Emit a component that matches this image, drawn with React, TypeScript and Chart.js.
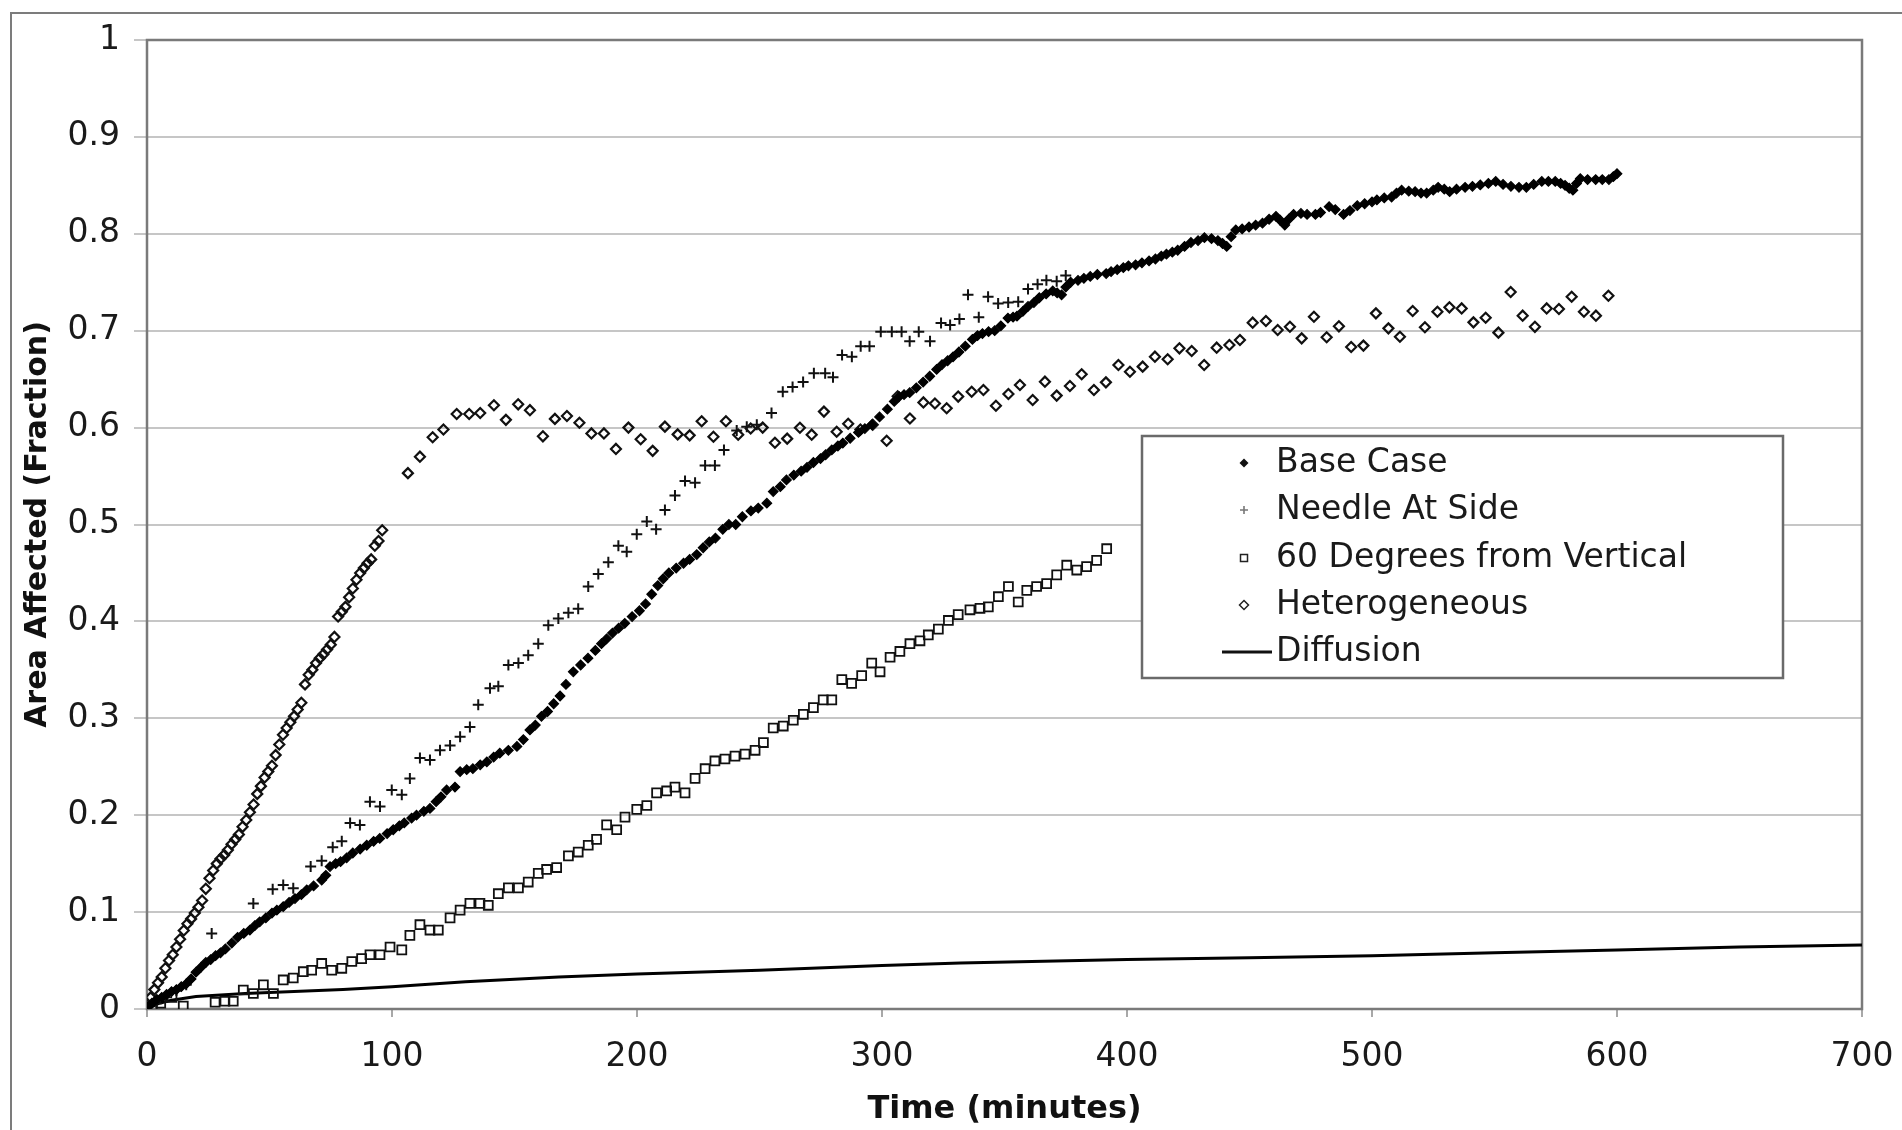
import React, { useEffect, useRef } from 'react';
import { Chart, registerables } from 'chart.js';

Chart.register(...registerables);

const xTickLabels = ['0', '100', '200', '300', '400', '500', '600', '700'];
const yTickLabels = ['0', '0.1', '0.2', '0.3', '0.4', '0.5', '0.6', '0.7', '0.8', '0.9', '1'];
const seriesNames = ['Base Case', 'Needle At Side', '60 Degrees from Vertical', 'Heterogeneous', 'Diffusion'];
const xAxisTitle = 'Time (minutes)';
const yAxisTitle = 'Area Affected (Fraction)';

// [time (minutes), area affected (fraction)]
const baseCase: [number, number][] = [
  [0, 0.002], [2, 0.006], [4, 0.01], [6, 0.012], [8, 0.015], [10, 0.018], [12, 0.02], [14, 0.023], [16, 0.026], [18, 0.031],
  [20, 0.038], [22, 0.043], [24, 0.048], [26, 0.051], [28, 0.055], [30, 0.058], [32, 0.062], [34.6, 0.068], [37, 0.074], [39.5, 0.078],
  [42, 0.0815], [44, 0.086], [46, 0.09], [48.5, 0.094], [51, 0.099], [53, 0.102], [55.6, 0.1056], [58, 0.11], [60.4, 0.114], [63, 0.118],
  [65.2, 0.123], [68, 0.127], [71.3, 0.133], [73, 0.138], [74.7, 0.147], [77, 0.15], [79, 0.152], [81.5, 0.156], [84, 0.161], [87, 0.165],
  [89.7, 0.169], [92.5, 0.173], [95, 0.176], [98, 0.181], [100.5, 0.185], [103, 0.189], [105, 0.192], [108, 0.197], [110, 0.2], [113, 0.204],
  [115.5, 0.207], [118, 0.214], [120, 0.219], [122.3, 0.226], [125.7, 0.229], [127.8, 0.245], [130.5, 0.247], [133, 0.248], [136, 0.252], [138.7, 0.255],
  [141.5, 0.26], [144, 0.264], [147.5, 0.267], [151, 0.271], [153.6, 0.278], [156.3, 0.288], [158.5, 0.293], [161, 0.302], [163.5, 0.307], [166, 0.315],
  [168.6, 0.323], [171, 0.335], [174, 0.348], [177, 0.355], [180, 0.362], [183, 0.37], [185.5, 0.377], [187.6, 0.382], [190, 0.388], [192.5, 0.393],
  [195, 0.398], [198, 0.405], [201, 0.411], [203.5, 0.418], [206, 0.428], [208.5, 0.437], [210.7, 0.444], [213, 0.45], [216, 0.455], [219, 0.46],
  [221.5, 0.464], [224.4, 0.469], [227, 0.476], [229.5, 0.482], [232, 0.486], [235, 0.495], [237.5, 0.5], [240.3, 0.5], [243, 0.508], [246.5, 0.514],
  [249.5, 0.517], [253, 0.522], [255.6, 0.534], [258.5, 0.539], [261, 0.546], [264, 0.551], [267, 0.555], [269.4, 0.559], [272, 0.564], [274.9, 0.568],
  [277, 0.572], [279.5, 0.577], [282, 0.581], [284, 0.584], [287, 0.589], [290.4, 0.595], [293, 0.599], [295.9, 0.603], [299, 0.611], [302.2, 0.619],
  [305, 0.627], [307, 0.632], [309, 0.634], [311.3, 0.636], [314, 0.641], [316.8, 0.647], [319.5, 0.653], [322.3, 0.66], [324.5, 0.665], [326.8, 0.669],
  [329, 0.673], [331.4, 0.678], [334, 0.684], [336.9, 0.691], [339, 0.695], [341, 0.697], [343.5, 0.699], [346, 0.7], [348.5, 0.705], [351.4, 0.713],
  [353.5, 0.714], [355.1, 0.715], [357.5, 0.72], [359.6, 0.725], [362, 0.729], [364.2, 0.734], [367, 0.738], [369.7, 0.741], [371.5, 0.739], [373.3, 0.737],
  [375, 0.745], [377, 0.75], [380, 0.752], [382.4, 0.754], [385, 0.756], [387.9, 0.758], [391.5, 0.759], [393.5, 0.761], [396, 0.763], [398.5, 0.765],
  [400.6, 0.767], [403.5, 0.768], [406.1, 0.77], [409, 0.772], [411.6, 0.774], [414, 0.777], [416.1, 0.779], [418.5, 0.781], [420.7, 0.783], [423.5, 0.787],
  [426.1, 0.791], [429, 0.793], [431.6, 0.796], [434.5, 0.795], [437.1, 0.793], [439, 0.79], [440.7, 0.787], [442.5, 0.797], [444.4, 0.804], [447, 0.805],
  [449.8, 0.807], [452.5, 0.809], [455.3, 0.811], [458, 0.815], [460.8, 0.818], [462.5, 0.814], [464.4, 0.809], [466, 0.815], [468, 0.82], [471, 0.821],
  [473.5, 0.82], [476.9, 0.82], [479, 0.822], [482.5, 0.828], [485, 0.825], [488.4, 0.82], [491, 0.824], [494, 0.829], [497, 0.831], [500, 0.833],
  [502, 0.835], [505, 0.837], [508, 0.838], [510, 0.842], [512.1, 0.845], [515, 0.844], [517.6, 0.8435], [520, 0.842], [522.3, 0.842], [525, 0.845],
  [527, 0.848], [529.5, 0.846], [531.7, 0.8435], [534.5, 0.846], [538, 0.848], [541, 0.849], [544.2, 0.8504], [547.5, 0.852], [550.5, 0.854], [553.5, 0.851],
  [556.7, 0.849], [560, 0.848], [563, 0.848], [566, 0.851], [569.3, 0.854], [572, 0.854], [574.8, 0.854], [577, 0.852], [578.8, 0.85], [580.5, 0.847],
  [582, 0.845], [583.5, 0.852], [585, 0.857], [588, 0.856], [591.3, 0.856], [594, 0.856], [596.7, 0.856], [598.5, 0.859], [600, 0.862],
];

const needleAtSide: [number, number][] = [
  [0, 0.002], [4, 0.006], [8, 0.012], [12, 0.019], [16, 0.025], [26.4, 0.078], [43.4, 0.109], [51.3, 0.1235], [55.6, 0.128], [59.7, 0.1245],
  [66.8, 0.147], [71.3, 0.153], [75.8, 0.167], [79.5, 0.173], [82.9, 0.192], [86.9, 0.19], [91, 0.214], [95.1, 0.209], [99.9, 0.226], [104, 0.221],
  [107.3, 0.238], [111.4, 0.259], [115.5, 0.257], [119.6, 0.267], [123.7, 0.272], [127.8, 0.281], [131.8, 0.291], [135.2, 0.314], [140, 0.331], [143.4, 0.333],
  [147.5, 0.355], [151.6, 0.357], [155.6, 0.365], [159.7, 0.377], [163.8, 0.396], [167.9, 0.403], [172, 0.409], [176, 0.413], [180.1, 0.436], [184.2, 0.449],
  [188.3, 0.461], [192.4, 0.478], [195.8, 0.472], [199.9, 0.49], [204, 0.503], [207.8, 0.495], [211.4, 0.515], [215.5, 0.53], [219.6, 0.545], [223.7, 0.543],
  [227.8, 0.561], [231.8, 0.561], [235.5, 0.577], [240.7, 0.597], [244.8, 0.601], [248.9, 0.603], [254.9, 0.615], [259.5, 0.637], [263.5, 0.642], [267.8, 0.647],
  [272.2, 0.656], [276.8, 0.656], [280, 0.652], [283.7, 0.675], [287.7, 0.673], [291.3, 0.684], [294.9, 0.684], [299.5, 0.699], [304, 0.699], [308, 0.699],
  [311.3, 0.689], [315, 0.699], [319.6, 0.689], [324.1, 0.708], [327.8, 0.706], [331.6, 0.712], [335.1, 0.737], [339.5, 0.714], [343.3, 0.735], [347.4, 0.728],
  [351.5, 0.729], [355.6, 0.73], [359.6, 0.743], [363.5, 0.748], [367.1, 0.752], [371.3, 0.751], [375, 0.757],
];

const sixtyDegrees: [number, number][] = [
  [0, 0.002], [5.6, 0.006], [10.2, 0.012], [14.8, 0.003], [27.8, 0.007], [31.8, 0.008], [35.2, 0.008], [39.3, 0.0196], [43.4, 0.016], [47.5, 0.025],
  [51.6, 0.016], [55.6, 0.03], [59.7, 0.032], [63.8, 0.0385], [67.2, 0.04], [71.3, 0.047], [75.4, 0.04], [79.5, 0.042], [83.6, 0.049], [87.6, 0.052],
  [91, 0.056], [95.1, 0.056], [99.2, 0.064], [104, 0.061], [107.3, 0.076], [111.4, 0.087], [115.5, 0.0815], [118.9, 0.0815], [123.7, 0.094], [127.8, 0.102],
  [131.8, 0.109], [135.9, 0.109], [139.3, 0.107], [143.4, 0.119], [147.5, 0.125], [151.6, 0.125], [155.6, 0.131], [159.7, 0.14], [163.1, 0.144], [167.2, 0.146],
  [172, 0.158], [176, 0.162], [180.1, 0.169], [183.5, 0.175], [187.6, 0.19], [191.7, 0.185], [195.1, 0.198], [199.9, 0.206], [204, 0.21], [208, 0.223],
  [212.1, 0.225], [215.5, 0.229], [219.6, 0.223], [223.7, 0.238], [227.8, 0.248], [231.8, 0.256], [235.9, 0.258], [240, 0.261], [244.1, 0.263], [248.2, 0.267],
  [251.6, 0.275], [255.6, 0.29], [259.7, 0.292], [263.8, 0.298], [267.9, 0.304], [272, 0.311], [276, 0.319], [279.5, 0.319], [283.6, 0.34], [287.6, 0.336],
  [291.7, 0.344], [295.8, 0.357], [299.2, 0.348], [303.3, 0.363], [307.3, 0.369], [311.4, 0.377], [315.5, 0.38], [318.9, 0.386], [323, 0.392], [327.1, 0.401],
  [331.1, 0.407], [335.9, 0.412], [340, 0.4135], [343.4, 0.415], [347.5, 0.4255], [351.6, 0.436], [355.6, 0.42], [359.1, 0.432], [363.1, 0.436], [367.2, 0.439],
  [371.3, 0.448], [375.4, 0.458], [379.5, 0.453], [383.5, 0.4565], [387.6, 0.463], [391.7, 0.475],
];

const heterogeneous: [number, number][] = [
  [0, 0.005], [1.5, 0.012], [3, 0.02], [4.5, 0.027], [6, 0.033], [7.5, 0.042], [9, 0.05], [10.5, 0.056], [12, 0.064], [13.5, 0.072],
  [15, 0.081], [16.5, 0.088], [18, 0.093], [19.5, 0.099], [21, 0.105], [22.5, 0.112], [24, 0.124], [25.5, 0.135], [27, 0.143], [28.5, 0.15],
  [30, 0.155], [31.5, 0.159], [33, 0.164], [34.5, 0.17], [36, 0.175], [37.5, 0.18], [39, 0.188], [40.5, 0.195], [42, 0.203], [43.5, 0.211],
  [45, 0.222], [46.5, 0.23], [48, 0.239], [49.5, 0.245], [51, 0.251], [52.5, 0.262], [54, 0.273], [55.5, 0.283], [57, 0.29], [58.5, 0.296],
  [60, 0.302], [61.5, 0.309], [63, 0.316], [64.5, 0.335], [66, 0.345], [67.5, 0.35], [69, 0.357], [70.5, 0.362], [72, 0.366], [73.5, 0.371],
  [75, 0.376], [76.5, 0.384], [78, 0.405], [79.5, 0.41], [81, 0.415], [82.5, 0.425], [84, 0.434], [85.5, 0.443], [87, 0.45], [88.5, 0.455],
  [90, 0.46], [91.5, 0.464], [93, 0.478], [94.5, 0.483], [96, 0.494],
  [106.5, 0.553], [111.4, 0.57], [116.6, 0.59], [121, 0.598], [126.4, 0.614], [131.5, 0.614], [136, 0.615], [141.6, 0.623], [146.5, 0.608], [151.5, 0.624],
  [156.3, 0.618], [161.6, 0.591], [166.5, 0.609], [171.4, 0.612], [176.5, 0.605], [181.4, 0.594], [186.5, 0.594], [191.4, 0.578], [196.5, 0.6], [201.5, 0.588],
  [206.4, 0.576], [211.4, 0.601], [216.6, 0.593], [221.5, 0.592], [226.4, 0.6065], [231.2, 0.5906], [236.3, 0.6065], [241.3, 0.5927], [246.4, 0.599], [251.3, 0.6],
  [256.3, 0.5843], [261.3, 0.5886], [266.5, 0.5998], [271.3, 0.5927], [276.3, 0.6165], [281.5, 0.5957], [286.2, 0.604], [291.2, 0.598], [296.2, 0.603], [301.9, 0.5865],
  [306.4, 0.6324], [311.4, 0.6094], [316.9, 0.626], [321.6, 0.6249], [326.4, 0.62], [331.1, 0.632], [336.6, 0.637], [341.4, 0.6388], [346.5, 0.6226], [351.6, 0.6347],
  [356.3, 0.644], [361.5, 0.6285], [366.5, 0.6474], [371.3, 0.633], [376.7, 0.643], [381.5, 0.655], [386.5, 0.6388], [391.4, 0.6467], [396.5, 0.6646], [401.2, 0.6577],
  [406.4, 0.6629], [411.4, 0.6732], [416.6, 0.6705], [421.4, 0.6818], [426.4, 0.679], [431.5, 0.6646], [436.6, 0.6825], [441.8, 0.6853], [446.1, 0.6904], [451.3, 0.7083],
  [456.7, 0.71], [461.5, 0.7007], [466.5, 0.7041], [471.3, 0.6921], [476.3, 0.7144], [481.5, 0.6932], [486.5, 0.7045], [491.5, 0.6832], [496.5, 0.6846], [501.6, 0.7179],
  [506.7, 0.7024], [511.4, 0.6938], [516.6, 0.7203], [521.6, 0.7035], [526.7, 0.7196], [531.6, 0.7241], [536.6, 0.723], [541.4, 0.7086], [546.4, 0.7134], [551.6, 0.698],
  [556.6, 0.74], [561.5, 0.7155], [566.5, 0.704], [571.3, 0.723], [576.3, 0.7224], [581.5, 0.735], [586.5, 0.7196], [591.4, 0.7155], [596.5, 0.736],
];

const diffusion: [number, number][] = [
  [0, 0], [5, 0.006], [10, 0.009], [20, 0.013], [40, 0.016], [60, 0.018], [80, 0.02], [100, 0.023], [130, 0.028], [168, 0.033],
  [200, 0.036], [250, 0.04], [300, 0.045], [332, 0.0475], [400, 0.051], [450, 0.053], [500, 0.055], [550, 0.058], [600, 0.061], [650, 0.064],
  [700, 0.066],
];

const FONT = "'DejaVu Sans', Verdana, sans-serif";

const toPoints = (a: [number, number][]) => a.map(([x, y]) => ({ x, y }));

export default function App() {
  const ref = useRef<HTMLCanvasElement>(null);

  useEffect(() => {
    document.body.style.margin = '0';
    const canvas = ref.current;
    if (!canvas) return;

    const decor = {
      id: 'decor',
      beforeDraw(chart: any) {
        const ctx = chart.ctx;
        ctx.save();
        ctx.fillStyle = '#ffffff';
        ctx.fillRect(0, 0, chart.width, chart.height);
        ctx.strokeStyle = '#7c7c7c';
        ctx.lineWidth = 2;
        ctx.beginPath();
        ctx.moveTo(11, chart.height);
        ctx.lineTo(11, 13);
        ctx.lineTo(chart.width, 13);
        ctx.stroke();
        ctx.restore();
      },
      beforeDatasetsDraw(chart: any) {
        const { ctx, chartArea } = chart;
        ctx.save();
        ctx.strokeStyle = '#7a7a7a';
        ctx.lineWidth = 2.5;
        ctx.strokeRect(chartArea.left, chartArea.top, chartArea.right - chartArea.left, chartArea.bottom - chartArea.top);
        ctx.restore();
      },
      afterDraw(chart: any) {
        const ctx = chart.ctx;
        const lx = 1142, ly = 436, lw = 641, lh = 242;
        const mx = 1244, tx = 1276;
        const rows = [463, 510, 558, 605, 652];
        ctx.save();
        ctx.fillStyle = '#ffffff';
        ctx.fillRect(lx, ly, lw, lh);
        ctx.strokeStyle = '#6a6a6a';
        ctx.lineWidth = 2.5;
        ctx.strokeRect(lx, ly, lw, lh);
        // markers
        ctx.fillStyle = '#111';
        ctx.beginPath();
        ctx.moveTo(mx, rows[0] - 4.5); ctx.lineTo(mx + 4.5, rows[0]); ctx.lineTo(mx, rows[0] + 4.5); ctx.lineTo(mx - 4.5, rows[0]);
        ctx.closePath(); ctx.fill();
        ctx.strokeStyle = '#777';
        ctx.lineWidth = 1.6;
        ctx.beginPath();
        ctx.moveTo(mx - 4, rows[1]); ctx.lineTo(mx + 4, rows[1]);
        ctx.moveTo(mx, rows[1] - 4); ctx.lineTo(mx, rows[1] + 4);
        ctx.stroke();
        ctx.strokeStyle = '#222';
        ctx.lineWidth = 1.5;
        ctx.strokeRect(mx - 3.5, rows[2] - 3.5, 7, 7);
        ctx.beginPath();
        ctx.moveTo(mx, rows[3] - 4.5); ctx.lineTo(mx + 4.5, rows[3]); ctx.lineTo(mx, rows[3] + 4.5); ctx.lineTo(mx - 4.5, rows[3]);
        ctx.closePath(); ctx.stroke();
        ctx.strokeStyle = '#111';
        ctx.lineWidth = 3;
        ctx.beginPath();
        ctx.moveTo(1222, rows[4]); ctx.lineTo(1272, rows[4]);
        ctx.stroke();
        // text
        ctx.font = `33px ${FONT}`;
        ctx.fillStyle = '#1a1a1a';
        ctx.textAlign = 'left';
        ctx.textBaseline = 'middle';
        seriesNames.forEach((n, i) => ctx.fillText(n, tx, rows[i]));
        ctx.restore();
      },
    };

    const chart = new Chart(canvas, {
      type: 'scatter',
      data: {
        datasets: [
          {
            label: seriesNames[0],
            data: toPoints(baseCase),
            pointStyle: 'rectRot',
            pointRadius: 4.8,
            backgroundColor: '#000',
            borderColor: '#000',
            borderWidth: 1.2,
          },
          {
            label: seriesNames[1],
            data: toPoints(needleAtSide),
            pointStyle: 'cross',
            pointRadius: 5.5,
            backgroundColor: '#111',
            borderColor: '#111',
            borderWidth: 2,
          },
          {
            label: seriesNames[2],
            data: toPoints(sixtyDegrees),
            pointStyle: 'rect',
            pointRadius: 6.3,
            backgroundColor: 'rgba(255,255,255,0)',
            borderColor: '#111',
            borderWidth: 1.8,
          },
          {
            label: seriesNames[3],
            data: toPoints(heterogeneous),
            pointStyle: 'rectRot',
            pointRadius: 5,
            backgroundColor: 'rgba(255,255,255,0)',
            borderColor: '#111',
            borderWidth: 2.2,
          },
          {
            label: seriesNames[4],
            data: toPoints(diffusion),
            showLine: true,
            pointRadius: 0,
            borderColor: '#000',
            backgroundColor: '#000',
            borderWidth: 3,
            tension: 0,
          },
        ],
      },
      options: {
        responsive: false,
        animation: false,
        devicePixelRatio: 1,
        layout: { padding: { top: 40, right: 40, left: 0, bottom: 0 } },
        plugins: {
          legend: { display: false },
          tooltip: { enabled: false },
        },
        scales: {
          x: {
            type: 'linear',
            min: 0,
            max: 700,
            afterFit: (s: any) => { s.height = 121; s.paddingRight = 0; s.paddingLeft = 0; },
            ticks: {
              stepSize: 100,
              padding: 21,
              color: '#1a1a1a',
              font: { family: FONT, size: 33 },
              maxRotation: 0,
              callback: (v: any) => xTickLabels[Math.round(Number(v) / 100)] ?? '',
            },
            grid: { drawOnChartArea: false, drawTicks: true, tickLength: 8, color: '#a8a8a8', lineWidth: 2 },
            border: { display: false },
            title: {
              display: true,
              text: xAxisTitle,
              color: '#111',
              font: { family: FONT, size: 32, weight: 'bold' },
              padding: { top: 0, bottom: 1 },
            },
          },
          y: {
            type: 'linear',
            min: 0,
            max: 1,
            afterFit: (s: any) => { s.width = 147; s.paddingTop = 0; s.paddingBottom = 0; },
            ticks: {
              stepSize: 0.1,
              padding: 14,
              color: '#1a1a1a',
              font: { family: FONT, size: 33 },
              callback: (v: any) => yTickLabels[Math.round(Number(v) * 10)] ?? '',
            },
            grid: { color: '#c6c6c6', lineWidth: 2, tickLength: 13, drawTicks: true },
            border: { display: false },
            title: {
              display: true,
              text: yAxisTitle,
              color: '#111',
              font: { family: FONT, size: 30, weight: 'bold' },
              padding: { top: 20, bottom: 0 },
            },
          },
        },
      },
      plugins: [decor],
    });

    return () => chart.destroy();
  }, []);

  return (
    <div style={{ width: 1902, height: 1130, position: 'relative' }}>
      <canvas ref={ref} width={1902} height={1130} style={{ display: 'block', width: 1902, height: 1130 }} />
    </div>
  );
}
